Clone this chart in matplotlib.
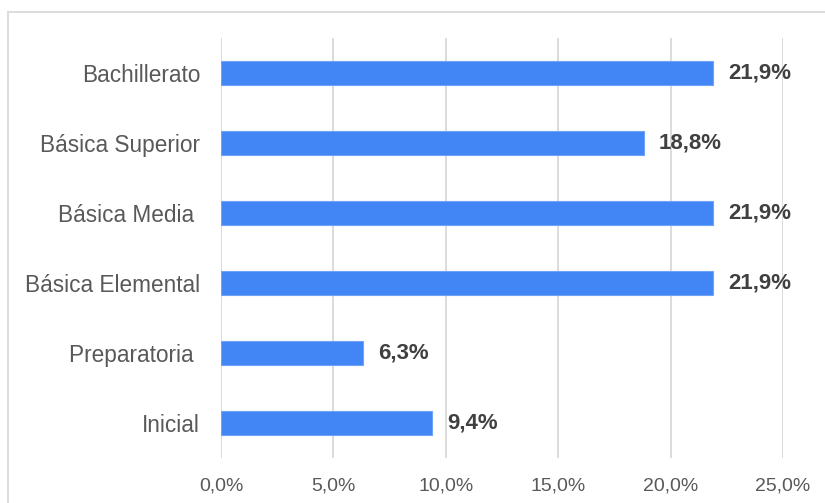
import matplotlib.pyplot as plt
from matplotlib.patches import Rectangle

# Niveles educativos (de abajo hacia arriba) y porcentajes
niveles = ["Inicial", "Preparatoria ", "Básica Elemental", "Básica Media ",
           "Básica Superior", "Bachillerato"]
porcentajes = [9.4, 6.3, 21.9, 21.9, 18.8, 21.9]
ticks_x = [0, 5, 10, 15, 20, 25]

plt.rcParams['font.family'] = ['Liberation Sans', 'DejaVu Sans']

fig = plt.figure(figsize=(8.25, 5.03), dpi=100)
ax = fig.add_axes([221 / 825, 1 - 458 / 503, 562 / 825, 420 / 503])

# Borde del area del grafico
fig.patches.append(Rectangle((8 / 825, -0.1), 1.2, 1 - 12 / 503 + 0.1,
                             transform=fig.transFigure, fill=False,
                             edgecolor="#d9d9d9", linewidth=1.3))

pos = range(len(niveles))
barras = ax.barh(pos, porcentajes, height=0.343, color="#4285F4",
                 edgecolor="#6fa3f7", linewidth=0.8, zorder=3)

# Etiquetas de valor con coma decimal
for b, v in zip(barras, porcentajes):
    ax.annotate(f"{v:.1f}%".replace(".", ","),
                xy=(b.get_width(), b.get_y() + b.get_height() / 2),
                xytext=(11, 0), textcoords="offset points",
                ha="left", va="center", fontsize=16, fontweight="bold",
                color="#404040")

ax.set_xlim(0, 25)
ax.set_ylim(-0.5, len(niveles) - 0.5)
ax.set_xticks(ticks_x)
ax.set_xticklabels([f"{t:.1f}%".replace(".", ",") for t in ticks_x])
ax.set_yticks(list(pos))
ax.set_yticklabels(niveles)

ax.tick_params(axis="x", length=0, pad=14, labelsize=14, labelcolor="#595959")
ax.tick_params(axis="y", length=0, pad=15, labelsize=16.3, labelcolor="#595959")

ax.xaxis.grid(True, color="#d9d9d9", linewidth=1.3, zorder=0)
ax.set_axisbelow(True)
for s in ax.spines.values():
    s.set_visible(False)

fig.savefig("out.png", dpi=100)
